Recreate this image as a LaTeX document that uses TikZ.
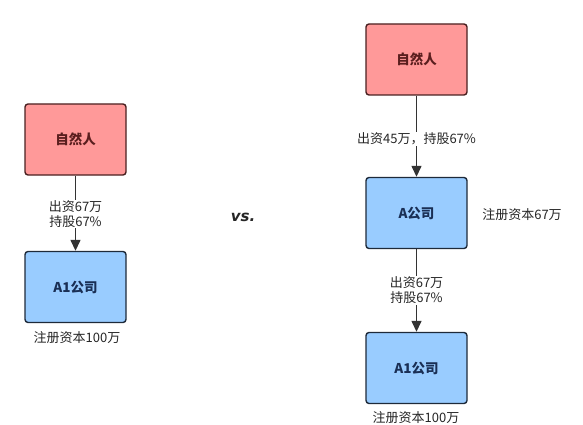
\documentclass[tikz,border=0pt]{standalone}
\usepackage{fontspec}
\setmainfont{Noto Sans CJK SC}
\newfontfamily\vsfont{DejaVu Sans}
\usetikzlibrary{arrows.meta}
\definecolor{pinkfill}{HTML}{FF9999}
\definecolor{pinkdraw}{HTML}{4A2020}
\definecolor{pinktext}{HTML}{5A1E1E}
\definecolor{bluefill}{HTML}{99CCFF}
\definecolor{bluedraw}{HTML}{1E2A3A}
\definecolor{bluetext}{HTML}{1A2F55}
\definecolor{linec}{HTML}{333333}
\begin{document}
\begin{tikzpicture}[x=1pt,y=-1pt,
  box/.style={rounded corners=3pt,line width=1.4pt,minimum width=101pt,minimum height=71pt,inner sep=0pt,font=\fontsize{13.5}{15}\selectfont\bfseries},
  person/.style={box,fill=pinkfill,draw=pinkdraw,text=pinktext},
  company/.style={box,fill=bluefill,draw=bluedraw,text=bluetext},
  lbl/.style={font=\fontsize{13}{15}\selectfont,text=black!85,fill=white,inner sep=1pt,align=center},
  conn/.style={draw=linec,line width=1.4pt,-{Triangle[length=11pt,width=10pt]}}]
\useasboundingbox (0,0) rectangle (583,425);
% left
\node[person] (p1) at (75.5,139.5) {自然人};
\node[company] (c1) at (75.5,287) {A1公司};
\draw[conn] (p1) -- (c1) node[lbl,pos=0.51] (l1) {出资67万\\持股67\%};
\node[lbl] (r1) at (77,338) {注册资本100万};
% vs
\node[font=\vsfont\fontsize{15}{16}\selectfont\bfseries\itshape,text=black!85] (vs) at (243,217) {vs.};
% right
\node[person] (p2) at (416.5,59.5) {自然人};
\node[company] (c2) at (416.5,213) {A公司};
\node[company] (c3) at (416.5,368) {A1公司};
\draw[conn] (p2) -- (c2) node[lbl,pos=0.53] (l2) {出资45万，持股67\%};
\draw[conn] (c2) -- (c3) node[lbl,pos=0.5] (l3) {出资67万\\持股67\%};
\node[lbl] (r2) at (522,215) {注册资本67万};
\node[lbl] (r3) at (416,418) {注册资本100万};
\end{tikzpicture}
\end{document}
